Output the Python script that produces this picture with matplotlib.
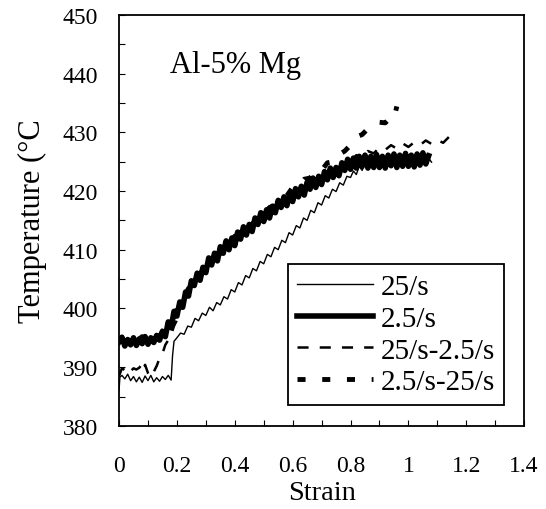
import matplotlib
matplotlib.use("Agg")
import matplotlib.pyplot as plt
from matplotlib.ticker import MultipleLocator

plt.rcParams['font.family'] = ['Liberation Serif', 'DejaVu Serif']
plt.rcParams['lines.scale_dashes'] = False

# ---- data ----
s25_x = [0.0, 0.003, 0.01, 0.02, 0.03, 0.04, 0.05, 0.06, 0.07, 0.08, 0.09, 0.10, 0.11, 0.12, 0.13, 0.14,
         0.15, 0.16, 0.17, 0.175, 0.18, 0.185, 0.19,
         0.2, 0.2125, 0.225, 0.2375, 0.25, 0.2625, 0.275, 0.2875, 0.30, 0.3125, 0.325, 0.3375, 0.35,
         0.3625, 0.375, 0.3875, 0.40, 0.4125, 0.425, 0.4375, 0.45, 0.4625, 0.475, 0.4875, 0.50,
         0.5125, 0.525, 0.5375, 0.55, 0.5625, 0.575, 0.5875, 0.60, 0.6125, 0.625, 0.6375, 0.65,
         0.6625, 0.675, 0.6875, 0.70, 0.7125, 0.725, 0.7375, 0.75, 0.7625, 0.775, 0.7875, 0.80,
         0.81, 0.82, 0.83, 0.84, 0.85, 0.86, 0.87, 0.88, 0.89, 0.90, 0.91, 0.92, 0.93, 0.94, 0.95,
         0.96, 0.97, 0.98, 0.99, 1.00, 1.01, 1.02, 1.03, 1.04, 1.05, 1.06, 1.07, 1.08]
s25_T = [386.0, 388.3, 388.6, 388.0, 388.8, 387.7, 388.4, 387.5, 388.3, 387.4, 388.5, 387.7, 388.6, 387.5, 388.2, 387.6,
         388.4, 387.9, 388.6, 388.2, 387.8, 392.0, 394.4,
         395.0, 395.8, 395.6, 397.0, 396.8, 398.3, 397.9, 399.2, 398.8, 400.2, 399.6, 401.0, 400.6,
         402.0, 401.6, 403.2, 402.8, 404.4, 404.0, 405.6, 405.2, 406.8, 406.4, 408.0, 407.6,
         409.2, 408.8, 410.4, 410.0, 411.6, 411.2, 412.9, 412.5, 414.1, 413.7, 415.4, 415.0,
         416.7, 416.3, 418.0, 417.6, 419.2, 418.8, 420.3, 419.9, 421.4, 421.0, 422.5, 422.3,
         423.4, 422.8, 424.2, 423.5, 424.6, 423.7, 425.2, 424.0, 425.5, 424.3, 425.8, 424.1, 425.6, 424.4, 426.0,
         424.2, 425.7, 424.5, 426.1, 424.3, 425.9, 424.4, 426.0, 424.2, 425.8, 424.5, 425.6, 424.9]

s2_5_x = [0.0, 0.01, 0.02, 0.03, 0.04, 0.05, 0.06, 0.07, 0.08, 0.09, 0.10, 0.11, 0.12, 0.13, 0.14,
          0.15, 0.16, 0.17, 0.18, 0.19, 0.20, 0.21, 0.22, 0.23, 0.24, 0.25, 0.26, 0.27, 0.28, 0.29,
          0.30, 0.31, 0.32, 0.33, 0.34, 0.35, 0.36, 0.37, 0.38, 0.39, 0.40, 0.41, 0.42, 0.43, 0.44,
          0.45, 0.46, 0.47, 0.48, 0.49, 0.50, 0.51, 0.52, 0.53, 0.54, 0.55, 0.56, 0.57, 0.58, 0.59,
          0.60, 0.61, 0.62, 0.63, 0.64, 0.65, 0.66, 0.67, 0.68, 0.69, 0.70, 0.71, 0.72, 0.73, 0.74,
          0.75, 0.76, 0.77, 0.78, 0.79, 0.80, 0.81, 0.82, 0.83, 0.84, 0.85, 0.86, 0.87, 0.88, 0.89,
          0.90, 0.91, 0.92, 0.93, 0.94, 0.95, 0.96, 0.97, 0.98, 0.99, 1.00, 1.01, 1.02, 1.03, 1.04,
          1.05, 1.06, 1.07]
s2_5_T = [394.3, 395.1, 393.6, 394.7, 393.8, 395.0, 393.7, 394.8, 394.0, 395.2, 393.9, 395.0, 394.2, 395.4, 394.6,
          396.1, 395.2, 397.7, 396.7, 399.5, 398.7, 401.1, 400.2, 402.8, 402.1, 404.7, 403.9, 406.0, 404.8, 407.0,
          406.1, 408.6, 407.4, 409.4, 408.1, 410.5, 409.4, 411.5, 410.0, 412.0, 410.7, 413.0, 411.8, 413.9, 412.5,
          414.3, 413.1, 415.4, 414.3, 416.3, 414.8, 416.8, 415.4, 417.4, 416.3, 418.4, 417.2, 419.0, 417.5, 419.5,
          418.2, 420.4, 419.0, 420.8, 419.3, 421.5, 420.3, 422.2, 420.6, 422.5, 421.1, 423.3, 421.9, 423.9, 422.3,
          424.0, 422.6, 424.8, 423.5, 425.4, 423.7, 425.6, 423.9, 425.9, 424.2, 426.1, 423.9, 425.9, 424.0, 426.2,
          424.0, 425.9, 423.9, 426.1, 424.3, 426.3, 424.0, 426.1, 424.2, 426.4, 424.2, 426.1, 424.1, 426.3, 424.4,
          426.5, 424.6, 426.0]

s25_2_5_x = [0.0, 0.01, 0.02, 0.03, 0.04, 0.05, 0.06, 0.07, 0.08, 0.085, 0.09, 0.10, 0.11, 0.12, 0.13, 0.14,
             0.15, 0.16, 0.17, 0.18, 0.19, 0.20, 0.21, 0.22, 0.23, 0.24, 0.25, 0.26, 0.27, 0.28, 0.29, 0.30,
             0.32, 0.34, 0.36, 0.38, 0.40, 0.42, 0.44, 0.46, 0.48, 0.50, 0.52, 0.54, 0.56, 0.58, 0.60,
             0.62, 0.64, 0.66, 0.68, 0.70, 0.72, 0.74, 0.76, 0.78, 0.80, 0.82, 0.84, 0.86, 0.88, 0.90,
             0.92, 0.94, 0.96, 0.98, 1.00, 1.02, 1.04, 1.06, 1.08, 1.10, 1.12, 1.14, 1.15]
s25_2_5_T = [388.5, 389.8, 389.5, 390.0, 389.3, 389.8, 389.6, 389.9, 390.6, 389.7, 390.4, 389.0, 388.3, 389.2, 390.2, 391.5,
             392.3, 393.8, 394.6, 395.5, 397.0, 398.0, 399.8, 400.4, 402.0, 402.4, 403.9, 404.0, 405.3, 405.2, 406.6, 406.3,
             407.7, 408.6, 409.6, 410.4, 411.1, 412.2, 412.9, 414.0, 414.5, 415.6, 416.0, 417.2, 417.4, 418.6, 418.8,
             419.9, 420.0, 421.1, 421.1, 422.3, 422.2, 423.4, 423.6, 424.7, 425.0, 426.1, 425.8, 426.8, 426.4, 427.4,
             427.0, 427.8, 427.2, 428.1, 427.5, 428.3, 427.8, 428.6, 428.0, 428.7, 428.2, 429.2, 428.4]

s2_5_25_x = [0.0, 0.02, 0.04, 0.06, 0.08, 0.10, 0.12, 0.14, 0.16, 0.18, 0.20, 0.22, 0.24, 0.26, 0.28, 0.30,
             0.32, 0.34, 0.36, 0.38, 0.40, 0.42, 0.44, 0.46, 0.48, 0.50, 0.52, 0.54, 0.56, 0.58, 0.60,
             0.62, 0.64, 0.66, 0.68, 0.70, 0.72, 0.74, 0.76, 0.78, 0.80, 0.82, 0.84, 0.86, 0.88, 0.90,
             0.92, 0.94, 0.95, 0.96]
s2_5_25_T = [395.0, 394.2, 395.1, 394.4, 395.2, 394.6, 395.4, 395.3, 396.8, 397.8, 399.8, 401.4, 403.4, 404.4, 406.0, 406.8,
             408.5, 409.0, 410.6, 410.9, 412.3, 412.6, 414.0, 414.3, 415.6, 415.9, 417.2, 417.5, 418.8, 419.2, 420.6,
             420.8, 422.0, 422.2, 423.4, 423.5, 424.8, 425.0, 426.2, 426.8, 427.8, 429.2, 429.6, 430.6, 430.9, 431.7,
             431.6, 432.6, 432.4, 434.4]

labels = ['25/s', '2.5/s', '25/s-2.5/s', '2.5/s-25/s']
x_ticks = [0, 0.2, 0.4, 0.6, 0.8, 1.0, 1.2, 1.4]
x_tick_labels = ['0', '0.2', '0.4', '0.6', '0.8', '1', '1.2', '1.4']
y_ticks = [380, 390, 400, 410, 420, 430, 440, 450]

# ---- figure ----
fig = plt.figure(figsize=(5.46, 5.10), dpi=100)
ax = fig.add_axes([0.218, 0.163, 0.742, 0.806])

ax.plot(s25_x, s25_T, color='black', lw=1.0, label=labels[0])
ax.plot(s2_5_x, s2_5_T, color='black', lw=4.0, label=labels[1])
ax.plot(s25_2_5_x, s25_2_5_T, color='black', lw=1.8, linestyle=(0, (8, 8)), label=labels[2])
ax.plot(s2_5_25_x, s2_5_25_T, color='black', lw=3.5, linestyle=(0, (5.8, 12)), label=labels[3])

ax.set_xlim(0, 1.4)
ax.set_ylim(380, 450)
ax.set_xticks(x_ticks)
ax.set_xticklabels(x_tick_labels)
ax.set_yticks(y_ticks)
ax.xaxis.set_minor_locator(MultipleLocator(0.1))
ax.yaxis.set_minor_locator(MultipleLocator(5))
ax.tick_params(which='both', direction='in', length=4, width=0.8, top=False, right=False)
ax.tick_params(axis='x', which='major', labelsize=17, pad=21)
ax.tick_params(axis='y', which='major', labelsize=17, pad=15)
for sp in ax.spines.values():
    sp.set_linewidth(1.3)

ax.set_xlabel('Strain', fontsize=20.5, labelpad=3)
ax.set_ylabel('Temperature (°C', fontsize=22, labelpad=11)

ax.text(0.126, 0.861, 'Al-5% Mg', transform=ax.transAxes, fontsize=22, va='baseline', ha='left')

leg = ax.legend(loc='lower right', bbox_to_anchor=(0.951, 0.051), borderaxespad=0,
                fontsize=21, handlelength=2.6, handletextpad=0.25, labelspacing=0.18,
                frameon=True, fancybox=False, framealpha=1, edgecolor='black', borderpad=0.33)
leg.get_frame().set_linewidth(1.3)

fig.savefig('out.png', dpi=100)
